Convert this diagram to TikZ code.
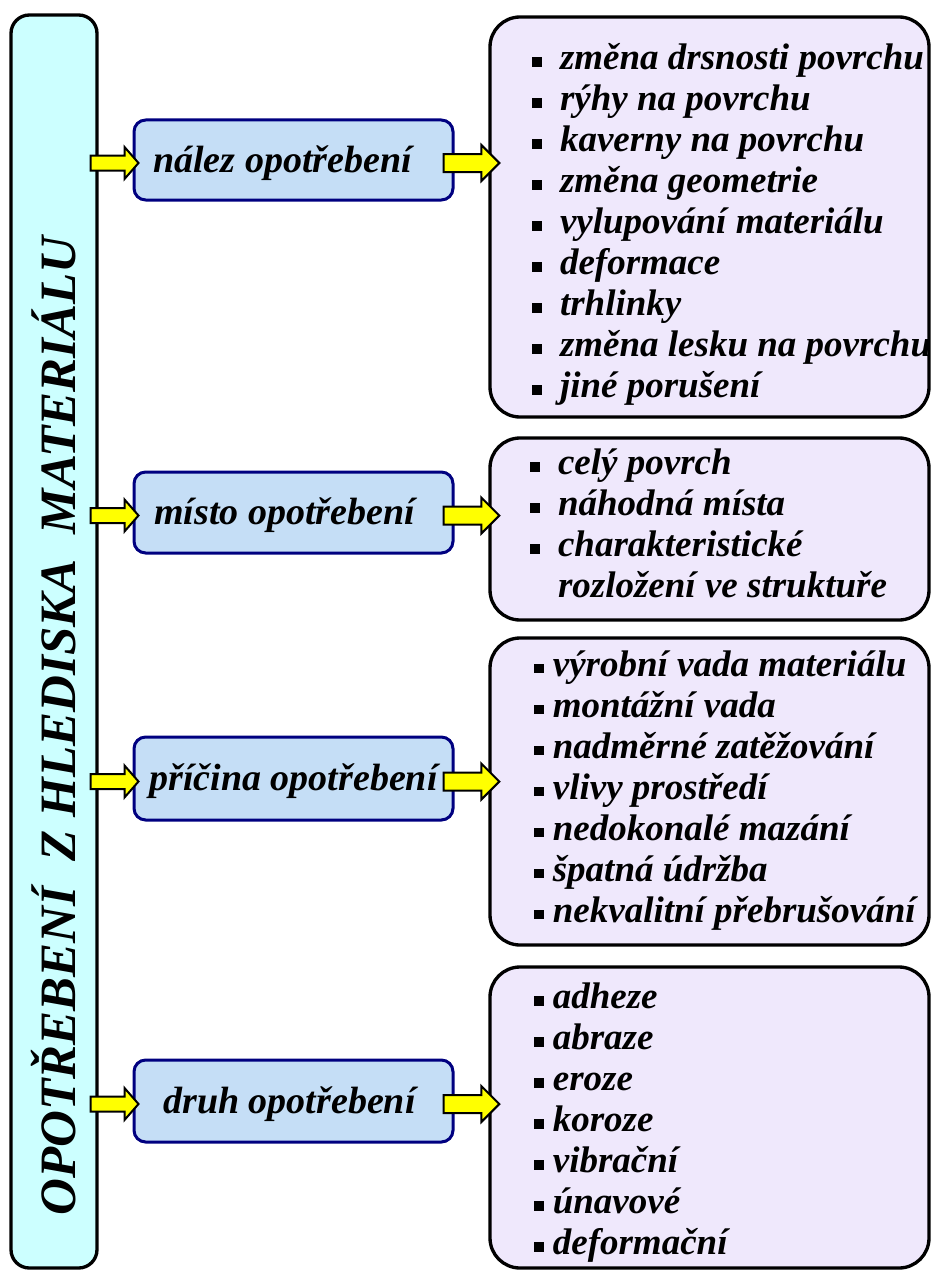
\documentclass[tikz,border=0pt]{standalone}
\usepackage{fontspec}
\setmainfont{Liberation Serif}
\usetikzlibrary{calc,fit}
\definecolor{barcyan}{RGB}{204,255,255}
\definecolor{boxblue}{RGB}{197,222,246}
\definecolor{boxnavy}{RGB}{0,0,128}
\definecolor{lav}{RGB}{239,232,252}
\definecolor{arryellow}{RGB}{255,255,0}
\newcommand\bul{\rule[1.8pt]{5.6pt}{5.6pt}}
% start, tip, shaft half, head half, head length
\newcommand\blockarrow[5]{%
  \path let \p1=(#1), \p2=(#2) in [draw=black, line width=1.2pt, fill=arryellow, line join=miter]
  (\x1,\y1+#3) -- (\x2-#5,\y1+#3) -- (\x2-#5,\y1+#4) -- (\x2,\y1) --
  (\x2-#5,\y1-#4) -- (\x2-#5,\y1-#3) -- (\x1,\y1-#3) -- cycle;}
\begin{document}
\begin{tikzpicture}[x=0.6pt,y=-0.6pt,
  barbox/.style={draw=black, line width=2pt, fill=barcyan, rounded corners=11pt, inner sep=0pt},
  topic/.style={draw=boxnavy, line width=1.8pt, fill=boxblue, rounded corners=7pt, inner sep=0pt},
  listbox/.style={draw=black, line width=2pt, fill=lav, rounded corners=18pt, inner sep=0pt},
  topictext/.style={font=\fontsize{22.8}{26}\selectfont\bfseries\itshape, inner sep=0pt},
  listtext/.style={font=\fontsize{22.2}{24.6}\selectfont\bfseries\itshape, anchor=west, inner sep=0pt, align=left},
  bartext/.style={font=\fontsize{30.6}{34}\selectfont\bfseries\itshape, rotate=90, anchor=base, inner sep=0pt},
]
\useasboundingbox (0,0) rectangle (932,1270);
\fill[white] (0,0) rectangle (932,1270);

% left bar
\node[barbox, fit={(11,15) (97,1268)}] (bar) {};
\node[bartext] (bartitle) at (75,726) {OPOTŘEBENÍ\ \ Z HLEDISKA\ \ MATERIÁLU};

% topic boxes
\node[topic, fit={(134,120) (453,200)}] (b1) {};
\node[topic, fit={(134,472) (453,553)}] (b2) {};
\node[topic, fit={(134,737) (453,820)}] (b3) {};
\node[topic, fit={(134,1060) (453,1142)}] (b4) {};
\node[topictext] (t1) at ($(b1.center)+(-11,3)$) {nález opotřebení};
\node[topictext] (t2) at ($(b2.center)+(-9,3)$) {místo opotřebení};
\node[topictext] (t3) at ($(b3.center)+(0,3)$) {příčina opotřebení};
\node[topictext] (t4) at ($(b4.center)+(-4,3)$) {druh opotřebení};

% list boxes
\node[listbox, fit={(490,17) (929,417)}] (r1) {};
\node[listbox, fit={(490,438) (929,620)}] (r2) {};
\node[listbox, fit={(490,638) (929,945)}] (r3) {};
\node[listbox, fit={(490,967) (929,1268)}] (r4) {};

\node[listtext] (l1) at (532,225.5) {\begin{tabular}{@{}l@{\hspace{11pt}}l@{}}
\bul & změna drsnosti povrchu\\
\bul & rýhy na povrchu\\
\bul & kaverny na povrchu\\
\bul & změna geometrie\\
\bul & vylupování materiálu\\
\bul & deformace\\
\bul & trhlinky\\
\bul & změna lesku na povrchu\\
\bul & jiné porušení
\end{tabular}};
\node[listtext] (l2) at (530,528) {\begin{tabular}{@{}l@{\hspace{11pt}}l@{}}
\bul & celý povrch\\
\bul & náhodná místa\\
\bul & charakteristické\\
 & rozložení ve struktuře
\end{tabular}};
\node[listtext] (l3) at (534,791) {\begin{tabular}{@{}l@{\hspace{5.5pt}}l@{}}
\bul & výrobní vada materiálu\\
\bul & montážní vada\\
\bul & nadměrné zatěžování\\
\bul & vlivy prostředí\\
\bul & nedokonalé mazání\\
\bul & špatná údržba\\
\bul & nekvalitní přebrušování
\end{tabular}};
\node[listtext] (l4) at (534,1123.5) {\begin{tabular}{@{}l@{\hspace{5.5pt}}l@{}}
\bul & adheze\\
\bul & abraze\\
\bul & eroze\\
\bul & koroze\\
\bul & vibrační\\
\bul & únavové\\
\bul & deformační
\end{tabular}};

% arrow end points
\foreach \i in {1,2,3,4}{
  \coordinate (ls\i) at ($(bar.east |- b\i.west)+(-8,3)$);
  \coordinate (lt\i) at ($(b\i.west)+(6,3)$);
  \coordinate (rs\i) at ($(b\i.east)+(-11,3)$);
  \coordinate (rt\i) at ($(r\i.west |- b\i.east)+(11,3)$);
}
\foreach \i in {1,2,3,4}{
  \blockarrow{ls\i}{lt\i}{4.5pt}{9.6pt}{8.4pt}
  \blockarrow{rs\i}{rt\i}{5.4pt}{10.8pt}{10.8pt}
}
\end{tikzpicture}
\end{document}
